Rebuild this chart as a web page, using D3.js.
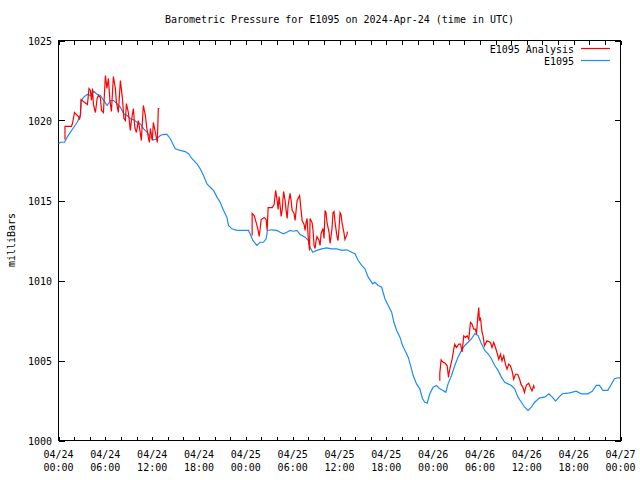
<!DOCTYPE html>
<html><head><meta charset="utf-8">
<script src="https://cdn.jsdelivr.net/npm/d3@7"></script>
<style>
body{margin:0;background:#fff;}
text{font-family:"DejaVu Sans Mono","Liberation Mono",monospace;font-size:10px;fill:#000;}
</style></head>
<body><svg id="c" width="640" height="480"></svg>
<script>
// ---- data (hours since 2024-04-24 00:00 UTC, millibars) ----
const blueHours = [0,0.26,0.77,1.11,1.53,1.96,2.39,2.81,2.90,3.24,3.67,4.09,4.51,4.95,5.37,5.79,6.23,6.65,7.07,7.51,7.93,8.35,8.79,9.21,9.63,10.06,10.49,10.91,11.34,11.77,12.19,12.62,13.04,13.47,13.9,14.32,14.75,14.96,15.6,16.24,16.66,17.1,17.74,18.16,18.58,19.02,19.44,19.86,20.3,20.72,21.14,21.57,21.78,22.21,22.85,23.7,24.34,24.64,24.9,25.41,25.83,26.26,26.6,26.77,27.33,27.97,28.39,28.81,29.25,29.67,30.09,30.53,30.95,31.59,32.01,32.23,32.57,33.08,33.72,34.36,35.0,35.64,36.28,36.92,37.56,37.98,38.4,38.84,39.26,39.68,40.25,40.54,40.96,41.4,41.82,42.24,42.68,42.97,43.32,43.74,44.08,44.5,44.8,45.1,45.44,45.87,46.29,46.64,46.93,47.23,47.57,48.0,48.43,48.85,49.27,49.62,49.91,50.35,50.77,51.19,51.63,52.05,52.47,52.91,53.33,53.75,54.19,54.61,55.03,55.46,55.89,56.31,56.74,57.17,57.59,58.02,58.44,58.87,59.3,59.72,60.15,60.58,61.0,61.64,62.28,62.83,63.26,63.69,64.11,64.54,65.48,66.33,66.97,67.82,68.38,68.89,69.31,69.74,70.38,70.81,71.23,71.66,71.97];
const blueValues = [1018.56,1018.64,1018.64,1018.96,1019.27,1019.58,1019.89,1020.31,1021.25,1021.46,1021.63,1021.56,1021.83,1021.63,1021.56,1021.25,1020.94,1021.25,1021.25,1021.04,1020.83,1020.42,1020.31,1020.11,1020.04,1019.89,1019.79,1019.48,1019.27,1018.96,1018.79,1018.86,1019.06,1019.13,1019.13,1018.86,1018.44,1018.23,1018.13,1018.06,1017.92,1017.61,1017.29,1016.98,1016.56,1016.04,1015.83,1015.63,1015.21,1014.89,1014.38,1013.96,1013.44,1013.23,1013.13,1013.13,1013.13,1012.81,1012.5,1012.19,1012.39,1012.39,1012.61,1013.13,1013.17,1013.13,1013.02,1012.92,1013.02,1013.13,1013.08,1013.13,1012.88,1012.71,1012.5,1012.08,1011.77,1011.88,1011.98,1012.04,1011.98,1011.98,1011.88,1011.92,1011.77,1011.67,1011.25,1010.94,1010.73,1010.21,1009.79,1009.89,1009.69,1009.58,1008.86,1008.44,1008.02,1007.39,1006.88,1006.46,1005.94,1005.52,1005.21,1004.69,1004.06,1003.54,1003.23,1002.61,1002.39,1002.33,1002.92,1003.33,1003.44,1003.23,1003.13,1003.02,1003.54,1004.06,1004.69,1005.21,1005.63,1005.94,1006.14,1006.36,1006.67,1006.56,1006.04,1005.63,1005.42,1005.11,1004.69,1004.38,1003.96,1003.64,1003.54,1003.44,1003.23,1002.71,1002.39,1002.08,1001.88,1002.08,1002.39,1002.67,1002.71,1002.92,1002.71,1002.46,1002.71,1002.92,1002.98,1003.08,1002.92,1002.92,1003.08,1003.44,1003.44,1003.13,1003.13,1003.5,1003.86,1003.92,1003.92];

const red1Hours = [0.83,0.83,1.66,1.79,2.05,2.56,2.69,2.81,2.90,3.20,3.71,3.90,4.09,4.22,4.35,4.48,4.73,4.95,5.12,5.37,5.50,5.76,6.01,6.20,6.39,6.59,6.78,7.03,7.29,7.42,7.67,7.93,8.19,8.38,8.57,8.70,8.95,9.21,9.34,9.59,9.78,9.98,10.23,10.49,10.61,10.87,11.13,11.32,11.51,11.64,11.77,12.02,12.15,12.41,12.66,12.79,12.92];
const red1Values = [1018.81,1019.63,1019.63,1019.81,1020.5,1020.25,1020.06,1020.38,1021.31,1021.19,1021.0,1022.0,1021.88,1021.25,1022.0,1021.0,1020.5,1021.38,1021.56,1021.44,1020.63,1020.5,1022.81,1022.0,1022.63,1021.25,1020.56,1022.75,1022.0,1021.13,1020.5,1022.5,1021.38,1020.13,1020.0,1021.06,1020.5,1019.38,1020.0,1020.75,1019.56,1019.25,1020.0,1019.19,1018.75,1020.94,1020.31,1019.5,1018.94,1018.63,1019.5,1018.75,1019.88,1019.25,1018.63,1020.75,1020.75];

const red2Hours = [24.81,24.81,25.07,25.32,25.58,25.71,25.84,25.96,26.35,26.60,26.73,26.86,27.37,27.62,27.82,28.01,28.14,28.26,28.39,28.52,28.65,28.84,29.03,29.16,29.29,29.42,29.67,29.80,29.93,30.18,30.31,30.57,30.89,31.08,31.21,31.46,31.59,31.72,31.85,31.97,32.16,32.23,32.48,32.61,32.74,32.87,33.00,33.12,33.38,33.51,33.64,33.89,34.02,34.15,34.27,34.40,34.66,34.79,35.04,35.17,35.30,35.43,35.68,35.81,35.94,36.07,36.19,36.32,36.58,36.70,36.96,37.02];
const red2Values = [1012.81,1014.19,1014.06,1013.63,1013.13,1012.75,1013.25,1013.81,1013.94,1013.81,1013.13,1014.56,1014.56,1014.75,1015.63,1015.0,1014.44,1015.25,1014.69,1014.0,1014.38,1015.56,1015.0,1014.38,1013.88,1014.69,1015.44,1015.0,1014.38,1014.19,1013.75,1015.0,1015.31,1014.38,1013.75,1013.5,1013.13,1013.63,1013.88,1012.81,1011.88,1013.88,1013.63,1013.13,1012.19,1012.0,1012.5,1012.75,1012.5,1012.19,1012.94,1013.25,1012.63,1014.38,1014.25,1013.63,1013.0,1012.31,1013.25,1014.25,1014.31,1013.63,1012.75,1012.5,1013.25,1014.25,1014.13,1013.63,1012.94,1012.56,1012.88,1013.06];

const red3Hours = [48.85,48.85,49.02,49.20,49.58,49.79,49.97,50.04,50.22,50.43,50.64,50.77,50.99,51.28,51.50,51.71,51.92,52.14,52.35,52.56,52.78,52.98,53.20,53.42,53.55,53.71,53.84,53.93,54.06,54.26,54.39,54.57,54.90,55.34,55.54,55.76,55.98,56.18,56.40,56.62,56.82,57.04,57.26,57.46,57.68,57.90,58.10,58.32,58.54,58.83,59.08,59.25,59.51,59.69,59.94,60.24,60.45,60.66,60.88,60.97];
const red3Values = [1003.73,1004.21,1005.04,1004.92,1004.81,1004.67,1003.94,1004.25,1004.67,1005.08,1005.71,1006.02,1005.81,1006.02,1006.02,1005.54,1006.54,1006.44,1006.54,1006.33,1007.38,1007.27,1006.96,1006.96,1006.64,1007.69,1008.31,1007.48,1007.69,1006.75,1006.54,1005.92,1006.23,1006.13,1005.81,1006.13,1005.81,1005.5,1005.08,1005.39,1004.98,1005.29,1004.77,1004.46,1004.77,1004.67,1004.36,1003.83,1004.14,1004.14,1003.83,1003.52,1003.31,1003.0,1003.46,1003.58,1003.31,1003.1,1003.42,1003.25];

const xTickHours = [0,6,12,18,24,30,36,42,48,54,60,66,72];
const xTickDates = ["04/24","04/24","04/24","04/24","04/25","04/25","04/25","04/25","04/26","04/26","04/26","04/26","04/27"];
const xTickTimes = ["00:00","06:00","12:00","18:00","00:00","06:00","12:00","18:00","00:00","06:00","12:00","18:00","00:00"];
const yTicks = [1000,1005,1010,1015,1020,1025];
const seriesNames = ["E1095 Analysis","E1095"];
const seriesColors = ["#ff0000","#1e8cf5"];
const titleText = "Barometric Pressure for E1095 on 2024-Apr-24 (time in UTC)";
const yLabel = "milliBars";

// ---- layout ----
const L=58.5, R=620.5, T=40.5, B=440.5;
const svg = d3.select("#c");
const x = d3.scaleLinear().domain([0,72]).range([L,R]);
const y = d3.scaleLinear().domain([1000,1025]).range([B,T]);

// frame
svg.append("rect").attr("x",L).attr("y",T).attr("width",R-L).attr("height",B-T)
  .attr("fill","none").attr("stroke","#000").attr("stroke-width",1).attr("shape-rendering","crispEdges");

// x ticks (every 2h, bottom + top mirror)
const minor = d3.range(0,73,2);
const tk = svg.append("g").attr("stroke","#000").attr("shape-rendering","crispEdges");
minor.forEach(h=>{
  const xx = Math.round(x(h))+0.5;
  const len = 4;
  tk.append("line").attr("x1",xx).attr("x2",xx).attr("y1",B).attr("y2",B-len);
  tk.append("line").attr("x1",xx).attr("x2",xx).attr("y1",T).attr("y2",T+len);
});
yTicks.forEach(v=>{
  const yy = Math.round(y(v))+0.5;
  tk.append("line").attr("x1",L).attr("x2",L+6).attr("y1",yy).attr("y2",yy);
  tk.append("line").attr("x1",R).attr("x2",R-6).attr("y1",yy).attr("y2",yy);
});

// x labels
xTickHours.forEach((h,i)=>{
  svg.append("text").attr("x",x(h)).attr("y",458).attr("text-anchor","middle").text(xTickDates[i]);
  svg.append("text").attr("x",x(h)).attr("y",471).attr("text-anchor","middle").text(xTickTimes[i]);
});
// y labels
yTicks.forEach(v=>{
  svg.append("text").attr("x",52).attr("y",y(v)+4).attr("text-anchor","end").text(v);
});

// title & axis label
svg.append("text").attr("x",(L+R)/2).attr("y",23).attr("text-anchor","middle").text(titleText);
svg.append("text").attr("transform","translate(15,240) rotate(-90)").attr("text-anchor","middle").text(yLabel);

// lines
const line = d3.line().x(d=>x(d[0])).y(d=>y(d[1]));
const zip = (a,b)=>a.map((h,i)=>[h,b[i]]);
svg.append("path").datum(zip(blueHours,blueValues)).attr("d",line)
  .attr("fill","none").attr("stroke",seriesColors[1]).attr("stroke-width",1.2);
[[red1Hours,red1Values],[red2Hours,red2Values],[red3Hours,red3Values]].forEach(([h,v])=>{
  svg.append("path").datum(zip(h,v)).attr("d",line)
    .attr("fill","none").attr("stroke",seriesColors[0]).attr("stroke-width",1.2);
});

// legend
seriesNames.forEach((n,i)=>{
  const yy = 53 + i*12;
  svg.append("text").attr("x",574).attr("y",yy).attr("text-anchor","end").text(n);
  svg.append("line").attr("x1",581).attr("x2",610).attr("y1",yy-4.5).attr("y2",yy-4.5)
    .attr("stroke",seriesColors[i]).attr("stroke-width",1.2);
});
</script></body></html>
